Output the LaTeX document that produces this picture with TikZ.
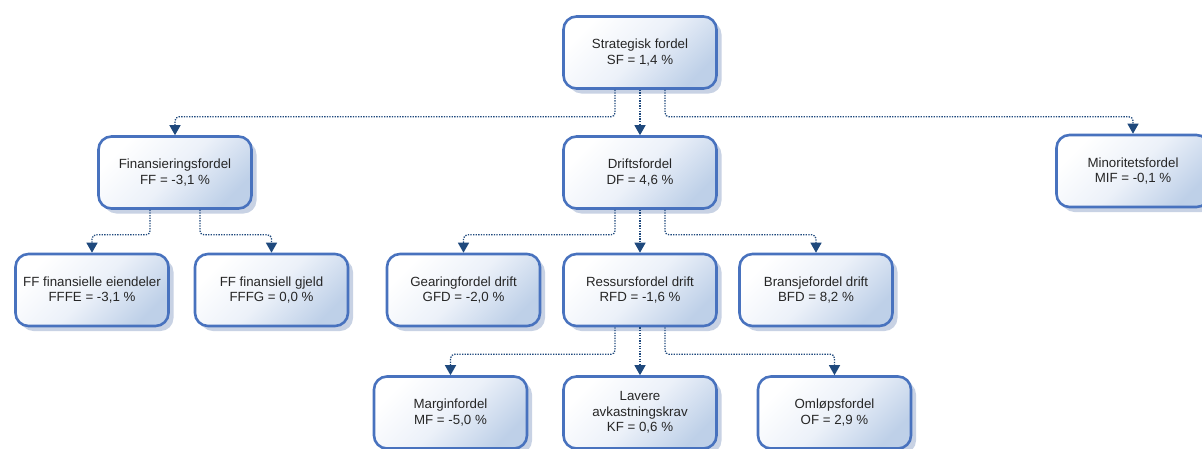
\documentclass[tikz,border=0pt]{standalone}
\usepackage{fontspec}
\setmainfont{Liberation Sans}
\usetikzlibrary{shadows,arrows.meta}
\definecolor{boxborder}{RGB}{72,114,190}
\definecolor{boxfill}{RGB}{190,208,232}
\definecolor{boxmid}{RGB}{236,241,249}
\definecolor{linkcol}{RGB}{31,73,125}
\definecolor{shadowcol}{RGB}{200,210,228}
\begin{document}
\begin{tikzpicture}[x=1pt,y=-1pt,
  box/.style={rounded corners=13pt, draw=boxborder, line width=2.6pt,
    minimum width=153pt, minimum height=72pt, align=center,
    top color=white, bottom color=boxfill, middle color=boxmid, shading angle=45,
    drop shadow={shadow xshift=5pt, shadow yshift=-5pt, fill=shadowcol, opacity=1},
    font=\fontsize{13.3}{15.3}\selectfont, text=black!85},
  link/.style={draw=linkcol, line width=1.3pt, dash pattern=on 1.3pt off 1.3pt,
    rounded corners=4pt, -{Triangle[width=11pt,length=10pt]}}]
\useasboundingbox (0,0) rectangle (1202,448);
\fill[white] (0,0) rectangle (1202,448);

\node[box] (sf)   at (640,52.5)  {Strategisk fordel\\SF = 1,4 \%};
\node[box] (ff)   at (175,172.5) {Finansieringsfordel\\FF = -3,1 \%};
\node[box] (df)   at (640,172.5) {Driftsfordel\\DF = 4,6 \%};
\node[box] (mif)  at (1133,171)  {Minoritetsfordel\\MIF = -0,1 \%};
\node[box] (fffe) at (92,290)    {FF finansielle eiendeler\\FFFE = -3,1 \%};
\node[box] (fffg) at (271.5,290) {FF finansiell gjeld\\FFFG = 0,0 \%};
\node[box] (gfd)  at (463.5,290) {Gearingfordel drift\\GFD = -2,0 \%};
\node[box] (rfd)  at (640,290)   {Ressursfordel drift\\RFD = -1,6 \%};
\node[box] (bfd)  at (816,290)   {Bransjefordel drift\\BFD = 8,2 \%};
\node[box] (mf)   at (450.5,412.5) {Marginfordel\\MF = -5,0 \%};
\node[box] (kf)   at (640,412.5)   {Lavere\\avkastningskrav\\KF = 0,6 \%};
\node[box] (of)   at (834.5,412.5) {Omløpsfordel\\OF = 2,9 \%};

% SF level
\draw[link] ([xshift=-25pt]sf.south) -- ++(0,27) -| (ff.north);
\draw[link] (sf.south) -- (df.north);
\draw[link] ([xshift=25pt]sf.south) -- ++(0,27) -| (mif.north);
% FF level
\draw[link] ([xshift=-25pt]ff.south) -- ++(0,25) -| (fffe.north);
\draw[link] ([xshift=25pt]ff.south) -- ++(0,25) -| (fffg.north);
% DF level
\draw[link] ([xshift=-25pt]df.south) -- ++(0,25) -| (gfd.north);
\draw[link] (df.south) -- (rfd.north);
\draw[link] ([xshift=25pt]df.south) -- ++(0,25) -| (bfd.north);
% RFD level
\draw[link] ([xshift=-25pt]rfd.south) -- ++(0,27) -| (mf.north);
\draw[link] (rfd.south) -- (kf.north);
\draw[link] ([xshift=25pt]rfd.south) -- ++(0,27) -| (of.north);
\end{tikzpicture}
\end{document}
